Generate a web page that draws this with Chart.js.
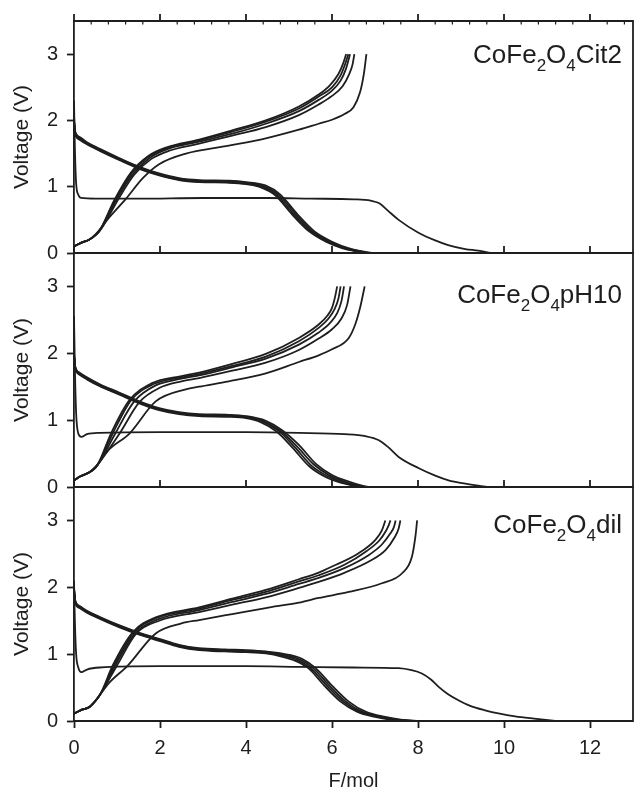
<!DOCTYPE html>
<html>
<head>
<meta charset="utf-8">
<script src="https://cdn.jsdelivr.net/npm/chart.js@4.4.0/dist/chart.umd.min.js"></script>
<style>
  html, body { margin: 0; padding: 0; background: #fff; }
  #wrap { position: relative; width: 634px; height: 791px; }
  #wrap canvas { position: absolute; left: 0; top: 0; }
</style>
</head>
<body>
<div id="wrap">
  <canvas id="cit2" width="634" height="791"></canvas>
  <canvas id="ph10" width="634" height="791"></canvas>
  <canvas id="dil" width="634" height="791"></canvas>
</div>
<script>
const xTickValues = [0, 2, 4, 6, 8, 10, 12];
const yTickValues = [0, 1, 2, 3];

// ---- CoFe2O4Cit2 (top) : [F/mol, V]
const cit2First = [[0,2.3],[0.02,1.6],[0.05,1.05],[0.1,0.88],[0.17,0.83],[0.5,0.82],[1.5,0.82],[3,0.83],[4.5,0.83],[5.5,0.82],[6.5,0.81],[6.9,0.79],[7.1,0.75],[7.3,0.64],[7.55,0.5],[8.0,0.31],[8.4,0.19],[8.7,0.12],[9.1,0.06],[9.4,0.035],[9.68,0]];
const cit2Dis1 = [[0,2.05],[0.03,1.83],[0.13,1.75],[0.3,1.67],[0.6,1.57],[1.06,1.43],[1.52,1.3],[1.98,1.2],[2.44,1.13],[2.91,1.1],[3.6,1.09],[4.0,1.07],[4.45,1.02],[4.8,0.88],[5.2,0.58],[5.6,0.32],[6.0,0.17],[6.4,0.07],[6.75,0.02],[6.95,0]];
const cit2Dis2 = [[0,2.0],[0.03,1.81],[0.13,1.74],[0.3,1.66],[0.6,1.56],[1.06,1.42],[1.52,1.29],[1.98,1.19],[2.44,1.12],[2.91,1.09],[3.6,1.08],[4.0,1.06],[4.4,1.01],[4.77,0.87],[5.16,0.58],[5.55,0.32],[5.95,0.17],[6.35,0.07],[6.7,0.02],[6.88,0]];
const cit2Dis3 = [[0,1.98],[0.03,1.8],[0.13,1.72],[0.3,1.65],[0.6,1.55],[1.06,1.41],[1.52,1.28],[1.98,1.18],[2.44,1.11],[2.91,1.08],[3.6,1.07],[4.0,1.05],[4.35,1.0],[4.72,0.87],[5.1,0.59],[5.5,0.33],[5.9,0.17],[6.3,0.07],[6.65,0.02],[6.82,0]];
const cit2Dis4 = [[0,1.96],[0.03,1.79],[0.13,1.71],[0.3,1.64],[0.6,1.54],[1.06,1.4],[1.52,1.27],[1.98,1.17],[2.44,1.1],[2.91,1.07],[3.6,1.06],[4.0,1.04],[4.3,1.0],[4.68,0.87],[5.06,0.59],[5.46,0.33],[5.86,0.17],[6.25,0.07],[6.6,0.02],[6.76,0]];
const cit2Chg1 = [[0,0.1],[0.15,0.15],[0.35,0.2],[0.5,0.28],[0.8,0.52],[1.21,0.82],[1.6,1.13],[1.98,1.34],[2.6,1.5],[3.6,1.62],[4.46,1.73],[5.23,1.86],[5.69,1.95],[6.0,2.01],[6.3,2.1],[6.5,2.2],[6.65,2.42],[6.74,2.7],[6.8,3.0]];
const cit2Chg2 = [[0,0.1],[0.15,0.15],[0.35,0.2],[0.5,0.27],[0.65,0.38],[1.02,0.8],[1.4,1.18],[1.8,1.42],[2.2,1.54],[2.91,1.65],[3.68,1.77],[4.46,1.9],[5.23,2.08],[5.69,2.24],[6.0,2.37],[6.25,2.52],[6.4,2.7],[6.48,2.85],[6.52,3.0]];
const cit2Chg3 = [[0,0.1],[0.15,0.15],[0.35,0.2],[0.5,0.27],[0.62,0.36],[0.98,0.8],[1.36,1.18],[1.75,1.43],[2.14,1.56],[2.91,1.68],[3.68,1.8],[4.46,1.95],[5.23,2.14],[5.69,2.31],[6.0,2.45],[6.2,2.6],[6.32,2.77],[6.42,3.0]];
const cit2Chg4 = [[0,0.1],[0.15,0.15],[0.35,0.2],[0.5,0.27],[0.6,0.34],[0.96,0.8],[1.34,1.2],[1.73,1.45],[2.14,1.58],[2.91,1.7],[3.68,1.83],[4.46,1.98],[5.23,2.18],[5.69,2.36],[6.0,2.5],[6.2,2.68],[6.3,2.84],[6.38,3.0]];
const cit2Chg5 = [[0,0.1],[0.15,0.15],[0.35,0.2],[0.5,0.27],[0.59,0.33],[0.94,0.8],[1.32,1.21],[1.72,1.46],[2.14,1.59],[2.91,1.71],[3.68,1.85],[4.46,2.0],[5.23,2.21],[5.69,2.39],[5.95,2.53],[6.15,2.7],[6.26,2.86],[6.33,3.0]];

// ---- CoFe2O4pH10 (middle)
const ph10First = [[0,2.56],[0.02,1.8],[0.05,1.1],[0.1,0.8],[0.17,0.75],[0.3,0.79],[0.6,0.81],[2,0.82],[4,0.82],[5.23,0.81],[6.3,0.79],[6.78,0.76],[7.09,0.7],[7.3,0.6],[7.55,0.45],[8.02,0.28],[8.4,0.17],[8.71,0.1],[9.1,0.05],[9.4,0.02],[9.64,0]];
const ph10Dis1 = [[0,2.0],[0.03,1.8],[0.13,1.71],[0.3,1.64],[0.59,1.54],[1.06,1.41],[1.52,1.28],[1.98,1.18],[2.44,1.12],[2.91,1.09],[3.6,1.08],[4.0,1.06],[4.46,0.99],[4.84,0.85],[5.23,0.63],[5.62,0.35],[6.0,0.18],[6.39,0.08],[6.7,0.02],[6.86,0]];
const ph10Dis2 = [[0,1.98],[0.03,1.79],[0.13,1.7],[0.3,1.63],[0.59,1.53],[1.06,1.4],[1.52,1.27],[1.98,1.17],[2.44,1.11],[2.91,1.08],[3.6,1.07],[4.0,1.05],[4.42,0.98],[4.8,0.84],[5.18,0.61],[5.57,0.34],[5.95,0.17],[6.33,0.07],[6.63,0.02],[6.8,0]];
const ph10Dis3 = [[0,1.96],[0.03,1.78],[0.13,1.69],[0.3,1.62],[0.59,1.52],[1.06,1.39],[1.52,1.26],[1.98,1.16],[2.44,1.1],[2.91,1.07],[3.6,1.06],[4.0,1.04],[4.38,0.98],[4.76,0.84],[5.13,0.6],[5.52,0.32],[5.9,0.16],[6.27,0.06],[6.57,0.02],[6.73,0]];
const ph10Dis4 = [[0,1.95],[0.03,1.77],[0.13,1.68],[0.3,1.61],[0.59,1.51],[1.06,1.38],[1.52,1.25],[1.98,1.15],[2.44,1.09],[2.91,1.06],[3.6,1.05],[4.0,1.03],[4.34,0.97],[4.71,0.83],[5.08,0.59],[5.47,0.31],[5.85,0.15],[6.22,0.06],[6.52,0.02],[6.66,0]];
const ph10Chg1 = [[0,0.1],[0.15,0.16],[0.36,0.22],[0.5,0.3],[0.8,0.55],[1.29,0.8],[1.9,1.28],[2.6,1.46],[2.91,1.5],[3.6,1.58],[4.46,1.7],[5.23,1.87],[5.69,1.97],[6.0,2.06],[6.39,2.23],[6.55,2.45],[6.66,2.7],[6.76,3.0]];
const ph10Chg2 = [[0,0.1],[0.15,0.16],[0.36,0.22],[0.5,0.3],[0.65,0.42],[1.06,0.8],[1.52,1.27],[1.98,1.48],[2.5,1.58],[2.91,1.63],[3.68,1.74],[4.46,1.86],[5.23,2.05],[5.69,2.22],[6.0,2.36],[6.22,2.52],[6.35,2.72],[6.43,3.0]];
const ph10Chg3 = [[0,0.1],[0.15,0.16],[0.36,0.22],[0.5,0.29],[0.62,0.4],[0.96,0.8],[1.4,1.28],[1.9,1.52],[2.5,1.62],[2.91,1.67],[3.68,1.79],[4.46,1.92],[5.23,2.13],[5.69,2.31],[5.95,2.45],[6.12,2.6],[6.22,2.78],[6.28,3.0]];
const ph10Chg4 = [[0,0.1],[0.15,0.16],[0.36,0.22],[0.5,0.29],[0.6,0.38],[0.9,0.8],[1.33,1.3],[1.85,1.54],[2.5,1.64],[2.91,1.69],[3.68,1.81],[4.46,1.95],[5.23,2.18],[5.69,2.38],[5.92,2.52],[6.06,2.66],[6.15,2.82],[6.2,3.0]];
const ph10Chg5 = [[0,0.1],[0.15,0.16],[0.36,0.22],[0.5,0.29],[0.58,0.37],[0.86,0.8],[1.29,1.3],[1.8,1.55],[2.5,1.66],[2.91,1.71],[3.68,1.84],[4.46,1.99],[5.23,2.23],[5.69,2.43],[5.9,2.57],[6.0,2.68],[6.07,2.84],[6.12,3.0]];

// ---- CoFe2O4dil (bottom)
const dilFirst = [[0,2.1],[0.02,1.5],[0.05,1.0],[0.1,0.8],[0.17,0.73],[0.3,0.77],[0.6,0.8],[2,0.82],[4,0.82],[5.23,0.81],[6.5,0.8],[7.55,0.79],[7.85,0.76],[8.09,0.71],[8.3,0.62],[8.48,0.51],[8.7,0.4],[8.94,0.31],[9.2,0.23],[9.56,0.16],[9.9,0.11],[10.26,0.07],[10.7,0.035],[11.19,0]];
const dilDis1 = [[0,2.0],[0.03,1.8],[0.13,1.72],[0.3,1.65],[0.59,1.56],[1.06,1.43],[1.52,1.32],[1.98,1.23],[2.44,1.14],[2.91,1.09],[3.5,1.07],[4.0,1.06],[4.46,1.04],[5.0,0.99],[5.3,0.93],[5.62,0.79],[6.0,0.53],[6.39,0.29],[6.78,0.14],[7.24,0.06],[7.6,0.02],[8.04,0]];
const dilDis2 = [[0,1.98],[0.03,1.79],[0.13,1.71],[0.3,1.64],[0.59,1.55],[1.06,1.42],[1.52,1.31],[1.98,1.22],[2.44,1.13],[2.91,1.08],[3.5,1.06],[4.0,1.05],[4.46,1.03],[4.95,0.98],[5.25,0.92],[5.56,0.79],[5.94,0.53],[6.32,0.29],[6.7,0.14],[7.15,0.06],[7.5,0.02],[7.96,0]];
const dilDis3 = [[0,1.96],[0.03,1.78],[0.13,1.7],[0.3,1.63],[0.59,1.54],[1.06,1.41],[1.52,1.3],[1.98,1.21],[2.44,1.12],[2.91,1.07],[3.5,1.05],[4.0,1.04],[4.46,1.02],[4.9,0.97],[5.2,0.91],[5.5,0.79],[5.88,0.53],[6.26,0.29],[6.64,0.14],[7.08,0.06],[7.42,0.02],[7.9,0]];
const dilDis4 = [[0,1.95],[0.03,1.77],[0.13,1.69],[0.3,1.62],[0.59,1.53],[1.06,1.4],[1.52,1.29],[1.98,1.2],[2.44,1.11],[2.91,1.06],[3.5,1.04],[4.0,1.03],[4.46,1.01],[4.85,0.96],[5.15,0.9],[5.45,0.79],[5.82,0.53],[6.2,0.29],[6.58,0.14],[7.0,0.06],[7.35,0.02],[7.84,0]];
const dilChg1 = [[0,0.11],[0.15,0.16],[0.36,0.21],[0.51,0.31],[0.8,0.56],[1.25,0.83],[1.9,1.31],[2.5,1.46],[2.91,1.51],[3.68,1.6],[4.46,1.69],[5.23,1.77],[5.69,1.84],[6.39,1.93],[7.16,2.06],[7.63,2.21],[7.86,2.46],[7.94,2.76],[7.98,3.0]];
const dilChg2 = [[0,0.11],[0.15,0.16],[0.36,0.21],[0.51,0.31],[0.66,0.45],[1.0,0.83],[1.45,1.31],[1.98,1.5],[2.91,1.63],[3.68,1.74],[4.46,1.85],[5.23,1.99],[5.69,2.08],[6.3,2.22],[6.9,2.4],[7.25,2.56],[7.45,2.74],[7.55,2.88],[7.59,3.0]];
const dilChg3 = [[0,0.11],[0.15,0.16],[0.36,0.21],[0.51,0.31],[0.64,0.43],[0.96,0.83],[1.42,1.31],[1.95,1.52],[2.91,1.66],[3.68,1.78],[4.46,1.9],[5.23,2.05],[5.69,2.14],[6.3,2.29],[6.85,2.48],[7.16,2.64],[7.35,2.8],[7.44,2.9],[7.48,3.0]];
const dilChg4 = [[0,0.11],[0.15,0.16],[0.36,0.21],[0.51,0.31],[0.63,0.42],[0.93,0.83],[1.39,1.32],[1.92,1.54],[2.91,1.68],[3.68,1.81],[4.46,1.93],[5.23,2.09],[5.69,2.18],[6.3,2.34],[6.8,2.54],[7.1,2.7],[7.26,2.85],[7.32,2.93],[7.36,3.0]];
const dilChg5 = [[0,0.11],[0.15,0.16],[0.36,0.21],[0.51,0.31],[0.62,0.41],[0.9,0.83],[1.37,1.33],[1.9,1.55],[2.91,1.7],[3.68,1.83],[4.46,1.96],[5.23,2.12],[5.69,2.22],[6.0,2.31],[6.62,2.51],[7.01,2.71],[7.16,2.85],[7.24,3.0]];

// label pieces, [text, isSubscript]
const cit2Label = [["CoFe", false], ["2", true], ["O", false], ["4", true], ["Cit2", false]];
const ph10Label = [["CoFe", false], ["2", true], ["O", false], ["4", true], ["pH10", false]];
const dilLabel = [["CoFe", false], ["2", true], ["O", false], ["4", true], ["dil", false]];

const ink = "#1e1e1e";
const family = "'Liberation Sans', Arial, sans-serif";

// box round each panel + top-edge ticks + sample name
const framePlugin = {
  id: "frame",
  afterDatasetsDraw(chart, args, opts) {
    const { ctx, chartArea: a } = chart;
    const x = chart.scales.x;
    ctx.save();
    ctx.strokeStyle = ink;
    ctx.lineWidth = 1.8;
    ctx.beginPath();
    ctx.moveTo(a.left, a.top);
    ctx.lineTo(a.right, a.top);
    ctx.lineTo(a.right, a.bottom);
    ctx.lineTo(a.left, a.bottom);
    xTickValues.forEach((v) => {
      const px = x.getPixelForValue(v);
      ctx.moveTo(px, a.top);
      ctx.lineTo(px, a.top - 7);
    });
    ctx.stroke();
    if (opts.minor) {
      ctx.lineWidth = 1.2;
      ctx.beginPath();
      for (let v = 0.4; v < 13; v += 0.4) {
        if (Math.abs(v / 2 - Math.round(v / 2)) < 0.01) continue;
        const px = x.getPixelForValue(v);
        ctx.moveTo(px, a.top);
        ctx.lineTo(px, a.top + 3.5);
      }
      ctx.stroke();
    }

    // sample name with subscripts, right aligned
    const big = "26px " + family;
    const small = "17px " + family;
    let total = 0;
    opts.label.forEach(([t, sub]) => {
      ctx.font = sub ? small : big;
      total += ctx.measureText(t).width;
    });
    let cx = a.right - 11 - total;
    const base = a.top + opts.labelY;
    ctx.fillStyle = ink;
    ctx.textBaseline = "alphabetic";
    ctx.textAlign = "left";
    opts.label.forEach(([t, sub]) => {
      ctx.font = sub ? small : big;
      ctx.fillText(t, cx, sub ? base + 8 : base);
      cx += ctx.measureText(t).width;
    });
    ctx.restore();
  },
};

function drawPanel(id, firstCurve, otherCurves, label, padTop, padBottom, labelY, isLast) {
  const datasets = [firstCurve].concat(otherCurves).map((c) => ({
    data: c,
    borderColor: ink,
    borderWidth: 1.8,
    pointRadius: 0,
    fill: false,
    cubicInterpolationMode: "monotone",
  }));

  new Chart(id, {
    type: "line",
    data: { datasets },
    plugins: [framePlugin],
    options: {
      responsive: false,
      animation: false,
      layout: { padding: { top: padTop, bottom: padBottom, left: 0, right: 1 } },
      plugins: {
        legend: { display: false },
        tooltip: { enabled: false },
        frame: { label, labelY, minor: padTop === 20 },
      },
      scales: {
        x: {
          type: "linear",
          min: 0,
          max: 13,
          display: isLast,
          afterBuildTicks: (s) => { s.ticks = xTickValues.map((v) => ({ value: v })); },
          afterFit: (s) => { s.height = isLast ? 70 : 0; },
          ticks: { color: ink, font: { family, size: 20 }, padding: 8, maxRotation: 0 },
          grid: { drawOnChartArea: false, tickLength: 7, tickWidth: 1.8, tickColor: ink },
          border: { display: false },
          title: {
            display: true,
            text: "F/mol",
            color: ink,
            font: { family, size: 20, lineHeight: 1 },
            padding: { top: 0, bottom: 0 },
          },
        },
        y: {
          min: 0,
          max: 3.5,
          afterBuildTicks: (s) => { s.ticks = yTickValues.map((v) => ({ value: v })); },
          afterFit: (s) => { s.width = 74; },
          ticks: { color: ink, font: { family, size: 20 }, padding: 9 },
          grid: { drawOnChartArea: false, tickLength: 7, tickWidth: 1.8, tickColor: ink },
          border: { color: ink, width: 1.8 },
          title: {
            display: true,
            text: "Voltage (V)",
            color: ink,
            font: { family, size: 21 },
            padding: { top: 10, bottom: 0 },
          },
        },
      },
    },
  });
}

drawPanel("cit2", cit2First,
  [cit2Dis1, cit2Dis2, cit2Dis3, cit2Dis4, cit2Chg1, cit2Chg2, cit2Chg3, cit2Chg4, cit2Chg5],
  cit2Label, 20, 538, 42, false);
drawPanel("ph10", ph10First,
  [ph10Dis1, ph10Dis2, ph10Dis3, ph10Dis4, ph10Chg1, ph10Chg2, ph10Chg3, ph10Chg4, ph10Chg5],
  ph10Label, 253, 304, 50, false);
drawPanel("dil", dilFirst,
  [dilDis1, dilDis2, dilDis3, dilDis4, dilChg1, dilChg2, dilChg3, dilChg4, dilChg5],
  dilLabel, 487, 0, 46, true);
</script>
</body>
</html>
